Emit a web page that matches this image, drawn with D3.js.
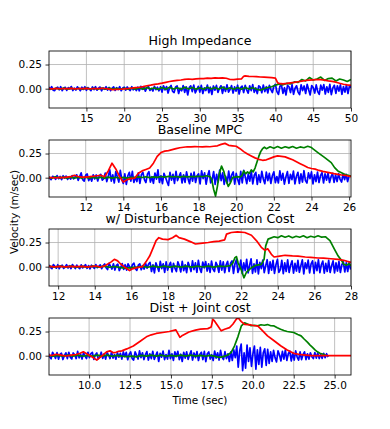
<!DOCTYPE html>
<html>
<head>
<meta charset="utf-8">
<script src="https://cdnjs.cloudflare.com/ajax/libs/d3/7.8.5/d3.min.js"></script>
<style>
  body { margin: 0; background: #fff; }
  svg { display: block; font-family: 'DejaVu Sans', sans-serif; }
</style>
</head>
<body>
<svg id="chart" width="390" height="429"></svg>
<script>
const titles = ['High Impedance', 'Baseline MPC', 'w/ Disturbance Rejection Cost', 'Dist + Joint cost'];
const xDomains = [[10.05, 50], [10.05, 26.1], [11.5, 28], [7.55, 26]];
const xTicks = [
  [15, 20, 25, 30, 35, 40, 45, 50],
  [12, 14, 16, 18, 20, 22, 24, 26],
  [12, 14, 16, 18, 20, 22, 24, 26, 28],
  [10, 12.5, 15, 17.5, 20, 22.5, 25]
];
const yDomain = [-0.2, 0.39];
const yTicks = [0, 0.25];

// High Impedance
const hiRed = [[10,0.002],[10.5,-0.002],[11,0.003],[11.5,-0.001],[12,0.002],[12.5,0],[13,0.003],[13.5,-0.002],[14,0.002],[14.5,0],[15,0.003],[15.5,-0.001],[16,0.002],[16.5,0.001],[17,0.003],[17.5,0.002],[18,-0.004],[18.5,-0.01],[19,-0.008],[19.5,-0.006],[20,-0.002],[20.5,0.002],[21,0.005],[21.5,0.01],[22,0.015],[22.5,0.022],[23,0.03],[23.5,0.036],[24,0.044],[24.5,0.05],[25,0.057],[25.5,0.066],[26,0.074],[26.5,0.08],[27,0.086],[27.5,0.09],[28,0.096],[28.5,0.1],[29,0.097],[29.5,0.101],[30,0.105],[30.5,0.104],[31,0.11],[31.5,0.107],[32,0.111],[32.5,0.109],[33,0.112],[33.5,0.108],[34,0.095],[34.5,0.094],[35,0.099],[35.5,0.1],[35.8,0.128],[36,0.132],[36.5,0.128],[37,0.126],[37.5,0.124],[38,0.121],[38.5,0.12],[39,0.117],[39.5,0.114],[40,0.11],[40.3,0.06],[40.5,0.055],[41,0.05],[41.5,0.054],[42,0.06],[42.5,0.065],[43,0.072],[43.5,0.079],[44,0.085],[44.5,0.089],[45,0.092],[45.5,0.095],[46,0.093],[46.5,0.088],[47,0.081],[47.5,0.075],[48,0.067],[48.5,0.056],[49,0.046],[49.5,0.04],[50,0.035]];
const hiGreen = [[10,0.005],[10.5,-0.006],[11,0.004],[11.5,-0.005],[12,0.006],[12.5,-0.004],[13,0.005],[13.5,-0.006],[14,0.004],[14.5,-0.005],[15,0.006],[15.5,-0.005],[16,0.004],[16.5,-0.006],[17,0.005],[17.5,-0.004],[18,0.006],[18.5,-0.005],[19,0.004],[19.5,-0.006],[20,0.005],[20.5,-0.004],[21,0.006],[21.5,-0.005],[22,0.01],[22.5,-0.006],[23,0.012],[23.5,-0.004],[24,0.01],[24.5,-0.008],[25,0.012],[25.5,-0.005],[26,0.014],[26.5,-0.004],[27,0.01],[27.5,-0.006],[28,0.015],[28.5,-0.003],[29,0.012],[29.5,-0.005],[30,0.01],[30.5,-0.006],[31,0.014],[31.5,-0.004],[32,0.012],[32.5,-0.005],[33,0.016],[33.5,-0.004],[34,0.01],[34.5,-0.006],[35,0.012],[35.5,-0.005],[36,0.013],[36.5,-0.004],[37,0.01],[37.5,-0.006],[38,-0.015],[38.5,0],[39,0.012],[39.5,0.02],[40,0.035],[40.5,0.05],[41,0.04],[41.5,0.055],[42,0.05],[42.5,0.07],[43,0.065],[43.5,0.095],[44,0.08],[44.5,0.115],[45,0.09],[45.5,0.1],[46,0.12],[46.5,0.085],[47,0.105],[47.5,0.11],[48,0.08],[48.5,0.1],[49,0.09],[49.5,0.075],[50,0.095]];
const hiBlueStart = 10, hiBlueStep = 0.2;
const hiBlue = [
  0.018,-0.006,0.021,-0.015,-0.02,0.008,0.016,-0.012,0.02,-0.02,0.004,0.014,-0.018,0.011,-0.003,
  0.022,-0.019,0.006,-0.014,0.019,0.001,-0.021,0.015,-0.008,0.02,-0.017,0.012,-0.002,-0.02,0.018,
  -0.01,0.021,-0.016,0.005,0.017,-0.022,0.009,-0.006,0.02,-0.014,0.013,-0.02,0.003,0.019,-0.018,
  0.01,-0.009,0.021,-0.021,0.006,0.015,-0.016,0.018,-0.004,-0.019,0.02,-0.012,0.008,-0.02,0.016,
  -0.022,0.024,-0.006,0.018,-0.025,0.01,0.022,-0.018,0.004,-0.024,0.025,-0.01,0.015,-0.022,0.02,
  -0.035,0.03,-0.012,0.022,-0.045,0.01,0.034,-0.028,-0.04,0.018,0.028,-0.05,0.005,-0.022,0.032,
  -0.038,0.02,-0.065,0.012,0.03,-0.03,0.036,-0.044,-0.01,0.025,-0.035,0.035,-0.05,0.008,-0.02,
  0.038,-0.042,0.015,-0.06,0.028,-0.015,0.034,-0.038,0.006,0.03,-0.048,0.02,-0.028,0.04,-0.035,
  -0.008,0.032,-0.045,0.018,-0.025,0.036,-0.055,0.01,0.026,-0.04,0.034,-0.012,-0.046,0.03,-0.02,
  0.042,-0.038,0.008,-0.05,0.03,0.015,-0.042,0.038,-0.03,0.02,-0.044,0.035,-0.01,-0.04,0.028,
  0.045,-0.03,-0.06,0.025,0.038,-0.048,0.01,-0.065,0.035,0.02,-0.04,0.042,-0.058,0.005,0.03,
  -0.035,-0.062,0.04,-0.02,0.028,-0.05,0.045,-0.01,-0.065,0.032,0.012,-0.045,0.04,-0.03,-0.06,
  0.036,-0.015,0.042,-0.055,0.02,-0.038,0.044,-0.062,0.008,0.035,-0.048,0.03,-0.025,0.04,-0.058,
  0.022,-0.035,0.038,-0.05,0.03,0.01
];

// Baseline MPC
const mpcRed = [[10,0],[10.2,0.002],[10.4,-0.003],[10.6,0.004],[10.8,0],[11,0.005],[11.2,0.01],[11.4,0.025],[11.6,0.012],[11.8,0.005],[12,0.006],[12.2,0.01],[12.4,0.015],[12.6,0.02],[12.8,0.025],[13,0.01],[13.2,0.07],[13.4,0.15],[13.6,0.09],[13.8,0.01],[14,-0.045],[14.2,-0.02],[14.4,-0.01],[14.6,-0.005],[14.8,0.045],[15,0.07],[15.2,0.085],[15.4,0.1],[15.6,0.15],[15.8,0.22],[16,0.26],[16.2,0.275],[16.4,0.28],[16.6,0.29],[16.8,0.3],[17,0.31],[17.2,0.315],[17.4,0.32],[17.6,0.318],[17.8,0.322],[18,0.32],[18.2,0.318],[18.4,0.322],[18.6,0.32],[18.8,0.325],[19,0.33],[19.2,0.345],[19.4,0.355],[19.6,0.335],[19.8,0.33],[20,0.325],[20.2,0.3],[20.4,0.27],[20.6,0.245],[20.8,0.225],[21,0.205],[21.2,0.19],[21.4,0.18],[21.6,0.185],[21.8,0.2],[22,0.215],[22.2,0.225],[22.4,0.22],[22.6,0.215],[22.8,0.2],[23,0.185],[23.2,0.165],[23.4,0.145],[23.6,0.125],[23.8,0.105],[24,0.095],[24.2,0.088],[24.4,0.075],[24.6,0.065],[24.8,0.058],[25,0.05],[25.2,0.042],[25.4,0.035],[25.6,0.028],[25.8,0.024],[26,0.015],[26.2,0.01]];
const mpcGreen = [[10,0.005],[10.2,-0.005],[10.4,0.01],[10.6,-0.004],[10.8,0.006],[11,-0.005],[11.2,0.004],[11.4,-0.006],[11.6,0.005],[11.8,-0.004],[12,0.006],[12.2,-0.005],[12.4,0.004],[12.6,-0.006],[12.8,0.005],[13,-0.004],[13.2,0.006],[13.4,-0.005],[13.6,0.004],[13.8,-0.006],[14,0.003],[14.2,-0.005],[14.4,0.004],[14.6,0],[14.8,0.008],[15,0.002],[15.2,0.01],[15.4,0],[15.6,0.008],[15.8,0.003],[16,0.012],[16.2,0.005],[16.4,0.015],[16.6,0.008],[16.8,0.012],[17,0.006],[17.2,0.014],[17.4,0.008],[17.6,0.012],[17.8,0.01],[18,0.015],[18.2,0.01],[18.4,0.02],[18.6,0.012],[18.7,-0.02],[18.8,-0.12],[18.9,-0.19],[19,-0.09],[19.1,0.04],[19.22,0.12],[19.35,0.06],[19.45,-0.02],[19.58,-0.09],[19.7,-0.05],[19.8,0],[20,0.01],[20.2,0.008],[20.3,0.02],[20.4,0.07],[20.5,0.04],[20.6,0.06],[20.7,0.045],[20.8,0.08],[20.9,0.06],[21,0.1],[21.1,0.16],[21.2,0.22],[21.3,0.27],[21.4,0.3],[21.5,0.315],[21.6,0.3],[21.8,0.32],[22,0.305],[22.2,0.322],[22.4,0.305],[22.6,0.32],[22.8,0.308],[23,0.322],[23.2,0.305],[23.4,0.318],[23.6,0.31],[23.8,0.325],[24,0.312],[24.1,0.295],[24.34,0.26],[24.69,0.21],[25.05,0.156],[25.23,0.104],[25.4,0.07],[25.76,0.035],[26.1,0.017],[26.2,0.015]];
const mpcBlueStart = 10, mpcBlueStep = 0.08;
const mpcBlue = [
  0.018,-0.005,-0.02,0.014,0.006,-0.017,0.021,-0.01,0.012,-0.02,0.02,-0.004,0.016,-0.018,0.008,-0.015,0.022,-0.012,0.01,
  0.03,-0.028,0.012,0.05,-0.02,-0.035,0.025,0.038,-0.03,0.005,-0.036,0.03,-0.012,0.028,-0.034,0.02,0.035,-0.025,-0.01,
  0.048,-0.04,0.015,0.08,-0.035,0.03,-0.055,0.062,0.01,-0.045,0.075,-0.02,-0.06,0.04,-0.07,0.02,0.055,-0.035,0.065,-0.05,0.008,-0.04,0.05,-0.06,0.03,
  0.055,-0.02,-0.05,0.035,0.062,-0.045,0.01,-0.058,0.048,-0.015,0.08,-0.05,0.02,-0.062,0.045,0.005,-0.04,-0.08,0.055,-0.025,
  0.035,-0.06,0.065,-0.03,0.012,0.05,-0.055,0.03,-0.048,0.06,-0.01,-0.062,0.045,-0.035,0.058,-0.05,0.02,
  0.04,-0.065,0.07,-0.01,0.05,-0.068,0.02,0.072,-0.055,-0.02,0.062,-0.07,0.035,-0.045,0.078,-0.03,0.05,-0.07,0.015,-0.058,
  0.068,-0.04,0.03,0.06,-0.068,0.045,-0.02,-0.07,0.065,-0.055,0.075,0.01,-0.062,0.04,-0.035,0.068,-0.065,0.025,0.055,-0.07,
  0.03,-0.048,0.065,-0.015,-0.062,0.058,-0.03,0.045,-0.06,0.02,0.06,-0.052,0.012,-0.055,0.07,-0.025,0.045,-0.066,0.008,0.062,
  -0.058,0.035,-0.02,0.068,-0.065,0.015,0.055,-0.06,0.04,-0.045,0.072,-0.03,-0.055,0.05,-0.01,0.06,-0.065,0.03,-0.04,0.058,
  -0.05,0.02,0.052,-0.055,0.04,-0.025,0.048,-0.05,0.01,0.045,-0.048,0.03,-0.04,0.042,-0.018,-0.045,0.038,-0.02,0.035,-0.04,
  0.02
];

// w/ Disturbance Rejection Cost
const drcRed = [[11.5,0.003],[11.8,-0.003],[12.1,0.004],[12.4,-0.002],[12.7,0.003],[13,0],[13.3,0.004],[13.6,-0.002],[13.9,0.003],[14.1,0.007],[14.3,-0.006],[14.6,0.014],[14.9,0.05],[15.07,0.076],[15.25,0.06],[15.4,0.03],[15.6,0],[15.9,-0.04],[16.05,-0.022],[16.3,-0.01],[16.6,0],[16.8,0.05],[17,0.11],[17.2,0.2],[17.35,0.27],[17.5,0.3],[17.7,0.285],[18,0.28],[18.25,0.3],[18.45,0.325],[18.6,0.3],[18.9,0.285],[19.25,0.257],[19.5,0.235],[19.9,0.243],[20.2,0.25],[20.5,0.26],[20.8,0.265],[21.1,0.278],[21.2,0.337],[21.46,0.354],[21.8,0.36],[22.2,0.354],[22.56,0.325],[22.83,0.27],[23.1,0.2],[23.3,0.17],[23.45,0.185],[23.65,0.128],[23.8,0.1],[24.1,0.11],[24.4,0.118],[24.8,0.112],[25.1,0.11],[25.5,0.1],[25.8,0.096],[26.2,0.09],[26.5,0.088],[26.9,0.082],[27.3,0.076],[27.6,0.066],[27.8,0.055],[28,0.045]];
const drcGreen = [[11.5,0.005],[11.8,-0.005],[12.1,0.006],[12.4,-0.004],[12.7,0.005],[13,-0.006],[13.3,0.004],[13.6,-0.005],[13.9,0.006],[14.2,-0.004],[14.5,0.005],[14.8,-0.006],[15.1,0.002],[15.4,-0.01],[15.7,-0.015],[16,-0.01],[16.3,-0.004],[16.6,0.004],[16.9,-0.006],[17.2,0.006],[17.5,-0.004],[17.8,0.005],[18.1,-0.005],[18.4,0.006],[18.7,-0.004],[19,0.005],[19.3,-0.005],[19.6,0.006],[19.9,-0.003],[20.2,0.005],[20.5,-0.004],[20.8,0.006],[21.1,0.002],[21.4,0.01],[21.55,0.04],[21.65,0.09],[21.74,0.105],[21.83,0.04],[22,-0.03],[22.15,-0.115],[22.28,-0.06],[22.56,-0.01],[22.8,0.014],[23.1,0.024],[23.25,0.076],[23.34,0.215],[23.47,0.285],[23.8,0.31],[24,0.3],[24.2,0.32],[24.4,0.305],[24.6,0.318],[24.8,0.3],[25,0.315],[25.2,0.305],[25.4,0.32],[25.6,0.3],[25.8,0.315],[26,0.305],[26.2,0.32],[26.4,0.305],[26.6,0.31],[26.66,0.3],[26.85,0.27],[27.1,0.18],[27.3,0.11],[27.5,0.06],[27.6,0.025],[27.75,0.014],[27.9,0.03],[28,0.01]];
const drcBlueStart = 11.5, drcBlueStep = 0.08;
const drcBlue = [
  0.018,-0.006,-0.02,0.022,0.004,-0.016,0.02,-0.021,0.008,0.015,-0.018,-0.004,0.021,-0.014,0.01,-0.02,0.022,0.002,-0.019,
  0.016,-0.008,-0.021,0.019,-0.012,0.006,0.02,-0.017,0.012,-0.022,0.015,-0.003,-0.018,0.021,-0.01,0.004,0.018,-0.02,0.012,
  0.028,-0.01,-0.03,0.035,0.005,-0.025,0.03,-0.035,0.012,0.025,-0.04,-0.008,0.032,-0.028,0.02,
  -0.035,0.03,0,-0.03,0.022,0.036,-0.02,-0.038,0.015,0.03,-0.032,0.01,-0.025,0.034,-0.015,0.028,
  0.045,-0.05,0.02,-0.065,0.04,0,-0.048,0.055,-0.02,0.03,-0.06,0.05,-0.035,0.012,0.045,-0.055,0.035,-0.015,-0.05,0.05,
  0.01,-0.055,0.055,-0.04,0.02,-0.062,0.045,0.005,-0.05,0.06,-0.03,0.04,-0.058,0.065,-0.02,-0.06,0.048,-0.012,0.052,-0.045,
  0.03,-0.06,0.058,-0.025,-0.05,0.045,0.01,-0.058,0.06,-0.035,0.05,-0.062,0.02,0.055,-0.05,0.035,
  0.06,-0.07,0.03,0.075,-0.06,-0.015,0.068,-0.072,0.04,-0.04,0.075,-0.065,0.015,0.08,-0.07,0.03,-0.055,0.07,-0.075,0.045,
  -0.02,0.068,-0.062,0.01,0.072,-0.07,0.05,-0.035,0.065,-0.07,0.02,0.075,-0.06,-0.03,0.065,-0.072,0.04,-0.05,0.07,-0.06,
  0.015,0.06,-0.068,0.035,-0.045,0.065,-0.058,0.01,0.07,-0.075,0.04,-0.02,0.068,-0.065,0.03,0.06,-0.07,0.045,-0.04,0.072,
  -0.062,0.02,0.058,-0.068,0.035,-0.05,0.065,-0.06,0.01,0.06,-0.065,0.04,-0.045,0.055,-0.06,0.02,0.05,-0.055,0.04,-0.05,
  0.045,-0.03
];

// Dist + Joint cost
const djcRed = [[7.5,0.002],[7.8,0.006],[8,0.015],[8.3,0.005],[8.6,-0.003],[8.9,0.006],[9.2,0.012],[9.45,0.025],[9.65,0.04],[9.85,0.02],[10.06,0],[10.25,-0.02],[10.47,-0.045],[10.67,-0.017],[10.87,0.01],[11.07,0.04],[11.28,0.05],[11.48,0.03],[11.65,0.035],[11.8,0.045],[12,0.05],[12.3,0.07],[12.7,0.1],[13.1,0.147],[13.5,0.195],[13.8,0.216],[14.1,0.23],[14.5,0.24],[14.9,0.25],[15.3,0.267],[15.45,0.22],[15.55,0.19],[15.7,0.21],[16.1,0.245],[16.5,0.265],[16.8,0.275],[17.25,0.28],[17.46,0.298],[17.56,0.377],[17.66,0.36],[17.87,0.308],[18.07,0.257],[18.28,0.274],[18.58,0.29],[18.78,0.325],[18.99,0.377],[19.1,0.392],[19.3,0.353],[19.5,0.325],[19.9,0.318],[20.1,0.31],[20.3,0.308],[20.5,0.274],[20.9,0.205],[21.3,0.154],[21.7,0.103],[22.1,0.058],[22.5,0.024],[22.95,0.01],[23.55,0],[24,0],[24.5,0],[25,0],[26,0]];
const djcGreen = [[7.5,0.005],[7.8,-0.006],[8.1,0.004],[8.4,-0.005],[8.7,0.006],[9,-0.004],[9.3,0.005],[9.6,-0.006],[9.9,0.004],[10.2,-0.005],[10.5,0.006],[10.8,-0.004],[11.1,0.005],[11.4,-0.006],[11.7,0.004],[12,-0.005],[12.3,-0.01],[12.6,-0.004],[12.9,-0.012],[13.2,0.003],[13.5,-0.005],[13.8,0.006],[14.1,-0.004],[14.4,0.005],[14.7,-0.006],[15,0.004],[15.3,-0.005],[15.6,0.006],[15.9,-0.004],[16.2,0.005],[16.5,-0.005],[16.8,0.004],[17.1,-0.006],[17.4,0.003],[17.7,-0.008],[17.95,-0.017],[18.2,-0.01],[18.45,0.005],[18.68,0.034],[18.88,0.1],[19.1,0.2],[19.3,0.308],[19.5,0.34],[19.7,0.325],[19.9,0.31],[20.1,0.315],[20.3,0.308],[20.5,0.32],[20.7,0.315],[20.9,0.322],[21.1,0.31],[21.3,0.308],[21.5,0.29],[21.7,0.274],[21.9,0.26],[22.1,0.25],[22.3,0.245],[22.5,0.24],[22.75,0.22],[22.95,0.205],[23.15,0.17],[23.35,0.137],[23.5,0.11],[23.65,0.086],[23.8,0.06],[23.95,0.04],[24.1,0.025],[24.25,0.017],[24.45,0.007]];
const djcBlueStart = 7.5, djcBlueStep = 0.09;
const djcBlue = [
  0.03,-0.01,-0.032,0.035,0.008,-0.028,0.032,-0.036,0.012,0.025,-0.04,0,0.03,-0.03,0.035,-0.015,-0.034,0.028,0.01,-0.03,0.045,-0.022,0.015,-0.035,0.032,
  -0.005,-0.03,0.035,-0.02,0.02,0.034,-0.038,0.01,0.028,-0.032,-0.012,0.036,-0.028,0.018,-0.035,0.03,0.005,-0.03,0.038,-0.025,0.012,-0.036,0.03,-0.015,0.025,
  -0.035,0.04,-0.01,0.035,-0.042,0.015,0.038,-0.03,-0.045,0.04,0.005,-0.035,0.05,-0.02,0.03,-0.04,0.01,0.042,-0.045,0.02,-0.03,0.045,-0.038,0,0.038,
  -0.06,0.025,-0.015,0.048,-0.04,0.012,-0.035,0.055,-0.03,0.02,-0.048,0.04,-0.01,0.045,-0.04,0.015,-0.06,0.035,-0.025,0.04,-0.038,0.01,0.05,-0.045,0.028,
  -0.02,0.042,-0.05,0.015,0.035,-0.04,0.045,-0.062,0.02,0.038,-0.035,0.01,-0.05,0.048,-0.025,0.03,-0.045,0.055,-0.015,-0.04,0.042,-0.03,0.02,-0.06,0.04,
  -0.05,0.06,-0.02,0.1,-0.12,0.05,0.12,-0.155,0.03,-0.13,0.11,-0.06,0.08,-0.11,0.02,0.1,-0.14,0.06,-0.09,0.085,-0.12,0.03,0.07,-0.1,0.065,
  -0.08,0.04,-0.06,0.055,-0.02,-0.065,0.05,0.01,-0.055,0.045,-0.035,0.06,-0.05,0.02,0.048,-0.055,0.03,-0.045,0.05,-0.015,
  -0.045,0.04,-0.04,0.01,0.04,-0.04,0.02,-0.035,0.03,-0.01,-0.03,0.032,-0.025,0.028,-0.03,0.015,-0.028,0.025,-0.02,0.02,
  -0.015
];

const blueSeries = (vals, start, step) => vals.map((v, k) => [start + k * step, v]);

const panels = [
  {red: hiRed, green: hiGreen, blue: blueSeries(hiBlue, hiBlueStart, hiBlueStep), fmt: d3.format('d')},
  {red: mpcRed, green: mpcGreen, blue: blueSeries(mpcBlue, mpcBlueStart, mpcBlueStep), fmt: d3.format('d')},
  {red: drcRed, green: drcGreen, blue: blueSeries(drcBlue, drcBlueStart, drcBlueStep), fmt: d3.format('d')},
  {red: djcRed, green: djcGreen, blue: blueSeries(djcBlue, djcBlueStart, djcBlueStep), fmt: d3.format('.1f')}
];

const left = 49, right = 351, firstTop = 51, rowStep = 89, plotH = 57;
const colors = {blue: '#0000ff', green: '#008000', red: '#ff0000'};
const widths = {blue: 1.7, green: 1.7, red: 1.7};

const svg = d3.select('#chart');

panels.forEach((p, i) => {
  const top = firstTop + i * rowStep;
  const x = d3.scaleLinear().domain(xDomains[i]).range([left, right]);
  const y = d3.scaleLinear().domain(yDomain).range([top + plotH, top]);
  const g = svg.append('g');

  g.append('clipPath').attr('id', 'clip' + i)
    .append('rect')
    .attr('x', left).attr('y', top)
    .attr('width', right - left).attr('height', plotH);

  // grid
  g.append('g').selectAll('line').data(xTicks[i]).join('line')
    .attr('x1', d => x(d)).attr('x2', d => x(d))
    .attr('y1', top).attr('y2', top + plotH)
    .attr('stroke', '#b0b0b0').attr('stroke-width', 0.8);
  g.append('g').selectAll('line').data(yTicks).join('line')
    .attr('x1', left).attr('x2', right)
    .attr('y1', d => y(d)).attr('y2', d => y(d))
    .attr('stroke', '#b0b0b0').attr('stroke-width', 0.8);

  const line = d3.line().x(d => x(d[0])).y(d => y(d[1]));
  const lines = g.append('g').attr('clip-path', `url(#clip${i})`);
  ['blue', 'green', 'red'].forEach(c => {
    lines.append('path')
      .datum(p[c])
      .attr('d', line)
      .attr('fill', 'none')
      .attr('stroke', colors[c])
      .attr('stroke-width', widths[c])
      .attr('stroke-linejoin', 'round');
  });

  g.append('rect')
    .attr('x', left).attr('y', top)
    .attr('width', right - left).attr('height', plotH)
    .attr('fill', 'none').attr('stroke', '#000').attr('stroke-width', 0.85);

  const xAxis = g.append('g')
    .attr('transform', `translate(0,${top + plotH})`)
    .call(d3.axisBottom(x).tickValues(xTicks[i]).tickFormat(p.fmt).tickSize(3.5).tickPadding(3.5).tickSizeOuter(0));
  const yAxis = g.append('g')
    .attr('transform', `translate(${left},0)`)
    .call(d3.axisLeft(y).tickValues(yTicks).tickFormat(d3.format('.2f')).tickSize(3.5).tickPadding(3.5).tickSizeOuter(0));
  [xAxis, yAxis].forEach(a => {
    a.select('.domain').remove();
    a.selectAll('.tick line').attr('stroke', '#000').attr('stroke-width', 0.8);
    a.selectAll('.tick text').attr('fill', '#000')
      .style('font-size', '10.5px').style('font-family', "'DejaVu Sans', sans-serif");
  });

  g.append('text')
    .attr('x', (left + right) / 2).attr('y', top - 6)
    .attr('text-anchor', 'middle')
    .style('font-size', '12.6px')
    .text(titles[i]);
});

svg.append('text')
  .attr('transform', 'translate(18,212) rotate(-90)')
  .attr('text-anchor', 'middle')
  .style('font-size', '10.5px')
  .text('Velocity (m/sec)');

svg.append('text')
  .attr('x', 200).attr('y', 404)
  .attr('text-anchor', 'middle')
  .style('font-size', '10.5px')
  .text('Time (sec)');
</script>
</body>
</html>
